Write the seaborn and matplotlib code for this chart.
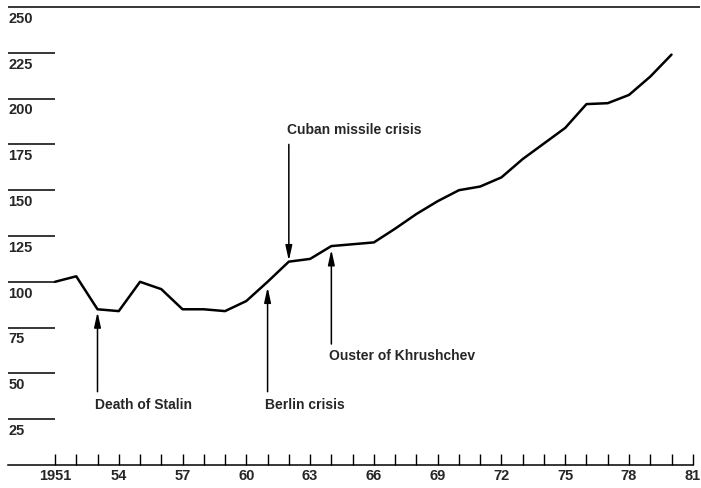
import matplotlib
matplotlib.use('Agg')
import matplotlib.pyplot as plt
import seaborn as sns
import pandas as pd

# index values (1951 = 100)
years = list(range(1951, 1981))
values = [100, 103, 85, 84, 100, 96, 85, 85, 84, 89.5,
          100, 111, 112.5, 119.5, 120.5, 121.5, 129, 137, 144, 150,
          152, 157, 167, 175.5, 184, 197, 197.5, 202, 212, 224]

ytick_values = [25, 50, 75, 100, 125, 150, 175, 200, 225, 250]
xtick_years = list(range(1951, 1982))
xtick_labels = ['1951' if y == 1951 else (str(y)[2:] if (y - 1951) % 3 == 0 else '') for y in xtick_years]

# events: label, year, arrow tip, arrow tail, text y
events = [
    ('Death of Stalin', 1953, 83.5, 40, 33),
    ('Berlin crisis', 1961, 97, 40, 33),
    ('Cuban missile crisis', 1962, 111.5, 175, 183),
    ('Ouster of Khrushchev', 1964, 117.5, 66, 59.5),
]

sns.set_style('white')
plt.rcParams['font.family'] = ['Liberation Sans', 'DejaVu Sans']
plt.rcParams['font.weight'] = 'bold'

df = pd.DataFrame({'year': years, 'value': values})

fig = plt.figure(figsize=(7.01, 4.88), dpi=100)
ax = fig.add_axes([8 / 701, 1 - 465 / 488, 692 / 701, 458 / 488])

xmin, xmax = 1948.79, 1981.34
sns.lineplot(data=df, x='year', y='value', ax=ax, color='black', lw=1.8)

# y "ticks": short rules with labels underneath, top rule across the chart
for v in ytick_values:
    right = xmax if v == 250 else 1951
    ax.hlines(v, xmin, right, color='black', lw=1.1, clip_on=False)
    ax.text(xmin + 0.02, v - 2.6, str(v), ha='left', va='top', fontsize=10.5, fontweight='bold')

for label, yr, tip, tail, ty in events:
    ax.annotate('', xy=(yr, tip), xytext=(yr, tail),
                arrowprops=dict(arrowstyle='-|>,head_length=0.9,head_width=0.2', mutation_scale=10,
                                color='black', lw=1.1, shrinkA=0, shrinkB=0))
    ax.text(yr - 0.1, ty, label, ha='left', va='center', fontsize=10, fontweight='bold')

ax.set_xlim(xmin, xmax)
ax.set_ylim(0, 250)
ax.set_xticks(xtick_years)
ax.set_xticklabels(xtick_labels, fontsize=10.5, fontweight='bold')
ax.set_yticks([])
ax.tick_params(axis='x', direction='in', length=8, width=1, pad=3, color='black', bottom=True)
ax.set_xlabel('')
ax.set_ylabel('')

for s in ['top', 'right', 'left']:
    ax.spines[s].set_visible(False)
ax.spines['bottom'].set_color('black')
ax.spines['bottom'].set_linewidth(1.1)
ax.spines['bottom'].set_bounds(xmin, 1981)

fig.savefig('out.png', dpi=100)
